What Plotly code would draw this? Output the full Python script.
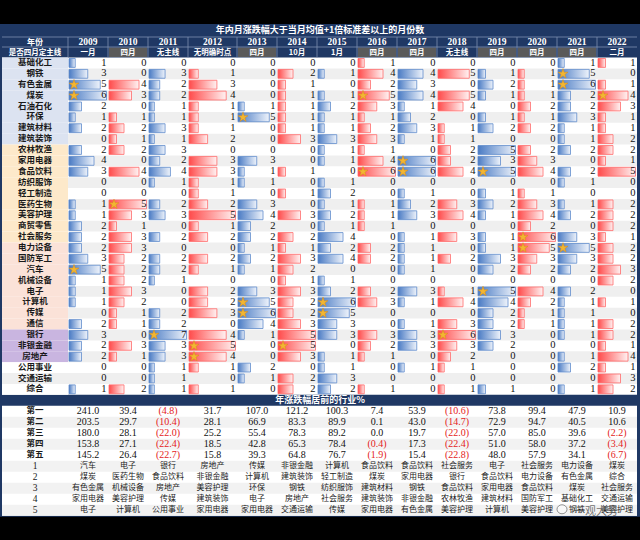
import plotly.graph_objects as go

# ---------------- data ----------------
years = ["2009", "2010", "2011", "2012", "2013", "2014", "2015", "2016", "2017",
         "2018", "2019", "2020", "2021", "2022"]
mainline = ["一月", "四月", "无主线", "无明确时点", "四月", "10月", "1月", "四月", "四月",
            "无主线", "四月", "四月", "四月", "二月"]
industries = ["基础化工", "钢铁", "有色金属", "煤炭", "石油石化", "环保", "建筑材料", "建筑装饰",
              "农林牧渔", "家用电器", "食品饮料", "纺织服饰", "轻工制造", "医药生物", "美容护理",
              "商贸零售", "社会服务", "电力设备", "国防军工", "汽车", "机械设备", "电子", "计算机",
              "传媒", "通信", "银行", "非银金融", "房地产", "公用事业", "交通运输", "综合"]
industry_group = [0] * 8 + [1] * 9 + [2] * 8 + [3] * 3 + [4] * 3

counts = [
    [1, 0, 0, 0, 0, 0, 0, 1, 0, 0, 0, 0, 1, 1],
    [3, 0, 3, 1, 0, 2, 1, 4, 4, 5, 1, 1, 5, 0],
    [5, 4, 2, 3, 0, 1, 0, 2, 3, 0, 2, 1, 6, 1],
    [6, 3, 2, 4, 0, 1, 1, 5, 4, 5, 1, 1, 2, 4],
    [2, 0, 1, 1, 1, 1, 2, 3, 1, 4, 0, 2, 2, 3],
    [1, 1, 1, 1, 5, 1, 1, 1, 2, 0, 1, 1, 3, 1],
    [2, 2, 3, 1, 0, 1, 1, 2, 3, 1, 2, 2, 1, 1],
    [0, 1, 1, 2, 0, 3, 3, 3, 1, 1, 0, 0, 1, 2],
    [2, 2, 3, 0, 0, 0, 1, 1, 0, 2, 5, 2, 2, 2],
    [4, 0, 2, 3, 3, 0, 1, 4, 6, 2, 3, 3, 0, 1],
    [3, 4, 4, 3, 1, 1, 0, 6, 6, 4, 5, 4, 2, 5],
    [0, 0, 1, 1, 1, 0, 1, 0, 0, 0, 0, 0, 1, 0],
    [0, 0, 0, 1, 0, 1, 2, 0, 1, 0, 1, 1, 0, 0],
    [1, 5, 2, 2, 3, 0, 1, 1, 2, 3, 2, 3, 1, 2],
    [1, 3, 3, 5, 4, 3, 2, 1, 3, 4, 1, 4, 2, 2],
    [2, 1, 0, 1, 2, 0, 1, 1, 0, 0, 0, 2, 0, 2],
    [2, 3, 2, 2, 2, 2, 4, 0, 1, 3, 1, 6, 3, 1],
    [2, 3, 0, 0, 1, 1, 2, 2, 1, 0, 1, 5, 5, 2],
    [3, 2, 2, 2, 2, 3, 4, 2, 1, 2, 3, 3, 3, 2],
    [5, 2, 2, 1, 1, 2, 0, 0, 1, 0, 2, 2, 2, 3],
    [1, 2, 1, 0, 0, 1, 1, 0, 0, 0, 0, 0, 0, 2],
    [1, 3, 0, 2, 3, 3, 2, 2, 3, 1, 5, 4, 2, 0],
    [1, 2, 0, 2, 5, 2, 6, 3, 1, 4, 4, 2, 1, 1],
    [0, 1, 2, 3, 6, 2, 5, 0, 0, 0, 2, 1, 1, 0],
    [2, 1, 2, 0, 4, 3, 3, 0, 1, 3, 2, 1, 1, 2],
    [3, 0, 7, 4, 1, 5, 3, 3, 3, 6, 3, 0, 1, 2],
    [2, 3, 3, 5, 0, 5, 0, 2, 3, 3, 2, 0, 0, 1],
    [2, 1, 3, 4, 0, 3, 1, 1, 0, 2, 0, 0, 1, 4],
    [0, 0, 1, 1, 2, 0, 1, 0, 1, 1, 0, 0, 2, 1],
    [0, 0, 1, 0, 1, 2, 3, 0, 0, 0, 0, 0, 0, 3],
    [1, 2, 1, 1, 0, 2, 2, 1, 0, 1, 1, 0, 1, 2],
]

# (industry, year) cells marked with a star
star_cells = [("有色金属", "2009"), ("煤炭", "2009"), ("汽车", "2009"), ("医药生物", "2010"),
              ("银行", "2011"), ("非银金融", "2012"), ("房地产", "2012"), ("环保", "2013"),
              ("计算机", "2013"), ("传媒", "2013"), ("非银金融", "2014"), ("计算机", "2015"),
              ("传媒", "2015"), ("煤炭", "2016"), ("食品饮料", "2016"), ("家用电器", "2017"),
              ("食品饮料", "2017"), ("银行", "2018"), ("食品饮料", "2019"), ("电子", "2019"),
              ("社会服务", "2020"), ("电力设备", "2020"), ("钢铁", "2021"), ("有色金属", "2021"),
              ("电力设备", "2021"), ("煤炭", "2022")]

rank_labels = ["第一", "第二", "第三", "第四", "第五"]
top_returns = [
    [241.0, 203.5, 180.0, 153.8, 145.2],
    [39.4, 29.7, 28.1, 27.1, 26.4],
    [-4.8, -10.4, -22.0, -22.4, -22.7],
    [31.7, 28.1, 25.2, 18.5, 15.8],
    [107.0, 66.9, 55.4, 42.8, 39.3],
    [121.2, 83.3, 78.3, 65.3, 64.8],
    [100.3, 89.9, 89.2, 78.4, 76.7],
    [7.4, 0.1, 0.0, -0.4, -1.9],
    [53.9, 43.0, 19.7, 17.3, 15.4],
    [-10.6, -14.7, -22.0, -22.4, -22.8],
    [73.8, 72.9, 57.0, 51.0, 48.0],
    [99.4, 94.7, 85.0, 58.0, 57.9],
    [47.9, 40.5, 39.6, 37.2, 34.1],
    [10.9, 10.6, -2.2, -3.4, -6.7],
]
top_names = [
    ["汽车", "煤炭", "有色金属", "家用电器", "电子"],
    ["电子", "医药生物", "机械设备", "美容护理", "计算机"],
    ["银行", "食品饮料", "房地产", "传媒", "公用事业"],
    ["房地产", "非银金融", "美容护理", "建筑装饰", "家用电器"],
    ["传媒", "计算机", "环保", "电子", "家用电器"],
    ["非银金融", "建筑装饰", "钢铁", "房地产", "交通运输"],
    ["计算机", "轻工制造", "纺织服饰", "社会服务", "传媒"],
    ["食品饮料", "煤炭", "建筑材料", "建筑装饰", "家用电器"],
    ["食品饮料", "家用电器", "钢铁", "非银金融", "有色金属"],
    ["社会服务", "银行", "食品饮料", "农林牧渔", "美容护理"],
    ["电子", "食品饮料", "家用电器", "建筑材料", "计算机"],
    ["社会服务", "电力设备", "食品饮料", "国防军工", "美容护理"],
    ["电力设备", "有色金属", "煤炭", "基础化工", "钢铁"],
    ["煤炭", "综合", "社会服务", "交通运输", "美容护理"],
]
name_rank_labels = ["1", "2", "3", "4", "5"]

title_top = "年内月涨跌幅大于当月均值+1倍标准差以上的月份数"
title_bottom = "年涨跌幅居前的行业%"
watermark = "一观大势"

# ---------------- style / geometry ----------------
W, H = 640, 540
NAVY = "#1f3864"
CJK = "Noto Sans CJK SC"
SERIF = "Liberation Serif"
col_edges = [2, 68, 108, 148, 188, 237, 277, 317, 357, 397, 437, 477, 517, 557, 597, 637]
y_title0, y_title1 = 24, 37
y_hdr1 = 47
y_data0 = 57.5
row_h = 10.88
n_rows = len(industries)
y_data1 = y_data0 + n_rows * row_h
y_btitle1 = y_data1 + 11
brow_h = 11.0
y_bottom = y_btitle1 + 10 * brow_h

group_colors = ["#dce3f1", "#fde9ca", "#fbe2d8", "#c9b5e0", "#ffffff"]
STRIPE = "#efefef"
BLUE_DARK, BLUE_LIGHT, BLUE_LINE = "#4a7bc4", "#eef3fb", "#5f8bcb"
RED_DARK, RED_LIGHT, RED_LINE = "#ff4b4b", "#fff2f2", "#ff6b6b"

fig = go.Figure()
shapes = []


def rect(x0, y0, x1, y1, color, line=None, lw=0):
    shapes.append(dict(type="rect", xref="x", yref="y", x0=x0, y0=y0, x1=x1, y1=y1,
                       fillcolor=color, line=dict(color=line or color, width=lw), layer="below"))


# outer frame and bands
rect(0, y_title0, W, y_bottom + 1, NAVY)
rect(col_edges[0], y_data0, col_edges[-1], y_data1, "#ffffff")
rect(col_edges[0], y_btitle1, col_edges[-1], y_bottom, "#ffffff")

# header cells (四月 highlighted)
for j, m in enumerate(mainline):
    if m == "四月":
        rect(col_edges[j + 1] + 1, y_hdr1 + 0.5, col_edges[j + 2] - 1, y_data0 - 0.5, "#5a5a5a")
# header separators
for x in col_edges[1:-1]:
    shapes.append(dict(type="line", xref="x", yref="y", x0=x, x1=x, y0=y_title1, y1=y_data0,
                       line=dict(color="#7f8fb0", width=0.8), layer="below"))
for yy in (y_title1, y_hdr1):
    shapes.append(dict(type="line", xref="x", yref="y", x0=col_edges[0], x1=col_edges[-1],
                       y0=yy, y1=yy, line=dict(color="#7f8fb0", width=0.8), layer="below"))

# data rows backgrounds
for i in range(n_rows):
    y0 = y_data0 + i * row_h
    y1 = y0 + row_h
    g = industry_group[i]
    lab_color = group_colors[g]
    if g == 4 and i % 2 == 1:
        lab_color = STRIPE
    rect(col_edges[0], y0, col_edges[1], y1, lab_color)
    if i % 2 == 1:
        rect(col_edges[1], y0, col_edges[-1], y1, STRIPE)

# bottom table stripes
for r in range(10):
    y0 = y_btitle1 + r * brow_h
    if r % 2 == 1:
        rect(col_edges[0], y0, col_edges[-1], y0 + brow_h, "#f2f2f2")

# ---------------- data bars ----------------
for j in range(len(years)):
    x0 = col_edges[j + 1]
    w = col_edges[j + 2] - x0
    cmax = max(counts[i][j] for i in range(n_rows))
    dark, light, edge = (BLUE_DARK, BLUE_LIGHT, BLUE_LINE) if j % 2 == 0 else (RED_DARK, RED_LIGHT, RED_LINE)
    for i in range(n_rows):
        v = counts[i][j]
        if v == 0:
            continue
        bl = v / cmax * (w - 2.5)
        yt = y_data0 + i * row_h + 1.0
        yb = yt + row_h - 2.0
        xa, xb = x0 + 1, x0 + 1 + bl
        fig.add_trace(go.Scatter(
            x=[xa, xb, xb, xa, xa], y=[yt, yt, yb, yb, yt], mode="lines", fill="toself",
            fillgradient=dict(type="horizontal", colorscale=[[0, dark], [1, light]]),
            line=dict(color=edge, width=0.8), hoverinfo="skip", showlegend=False))

# stars
sx, sy = [], []
for (ind, yr) in star_cells:
    i = industries.index(ind)
    j = years.index(yr)
    sx.append(col_edges[j + 1] + 6)
    sy.append(y_data0 + (i + 0.5) * row_h)
fig.add_trace(go.Scatter(x=sx, y=sy, mode="markers",
                         marker=dict(symbol="star", size=7.5, color="#f2b632",
                                     line=dict(color="#d98c1a", width=0.5)),
                         hoverinfo="skip", showlegend=False))


# ---------------- texts ----------------
def text_trace(xs, ys, texts, pos, size, family, color, bold=False):
    fig.add_trace(go.Scatter(x=xs, y=ys, text=texts, mode="text", textposition=pos,
                             textfont=dict(size=size, family=family, color=color,
                                           weight="bold" if bold else "normal"),
                             hoverinfo="skip", showlegend=False))


# numbers
nx, ny, nt = [], [], []
for i in range(n_rows):
    for j in range(len(years)):
        nx.append(col_edges[j + 2] - 1.5)
        ny.append(y_data0 + (i + 0.5) * row_h)
        nt.append(str(counts[i][j]))
text_trace(nx, ny, nt, "middle left", 10.5, SERIF, "#111111")

# industry labels
lx = [(col_edges[0] + col_edges[1]) / 2] * n_rows
ly = [y_data0 + (i + 0.5) * row_h for i in range(n_rows)]
text_trace(lx, ly, industries, "middle center", 8.5, CJK, "#1a1a1a", bold=True)

# title bands
text_trace([W / 2], [(y_title0 + y_title1) / 2 + 0.5], [title_top], "middle center", 9, CJK, "#ffffff", True)
text_trace([W / 2], [(y_data1 + y_btitle1) / 2 + 0.5], [title_bottom], "middle center", 9, CJK, "#ffffff", True)

# header rows
cx = [(col_edges[j + 1] + col_edges[j + 2]) / 2 for j in range(len(years))]
text_trace([(col_edges[0] + col_edges[1]) / 2], [(y_title1 + y_hdr1) / 2 + 0.5], ["年份"],
           "middle center", 8, CJK, "#ffffff", True)
text_trace(cx, [(y_title1 + y_hdr1) / 2 + 0.5] * len(years), years, "middle center", 9.5, SERIF, "#ffffff", True)
text_trace([(col_edges[0] + col_edges[1]) / 2], [(y_hdr1 + y_data0) / 2 + 0.5], ["是否四月定主线"],
           "middle center", 7.5, CJK, "#ffffff", True)
text_trace(cx, [(y_hdr1 + y_data0) / 2 + 0.5] * len(years), mainline, "middle center", 7.5, CJK, "#ffffff", True)

# bottom table
bx, by, bt, bc = [], [], [], []
for j in range(len(years)):
    for r in range(5):
        v = top_returns[j][r]
        bx.append(cx[j])
        by.append(y_btitle1 + (r + 0.5) * brow_h)
        bt.append(f"({abs(v):.1f})" if v < 0 else f"{v:.1f}")
        bc.append("#e41b1b" if v < 0 else "#111111")
fig.add_trace(go.Scatter(x=bx, y=by, text=bt, mode="text", textposition="middle center",
                         textfont=dict(size=10, family=SERIF, color=bc),
                         hoverinfo="skip", showlegend=False))
mx, my, mt = [], [], []
for j in range(len(years)):
    for r in range(5):
        mx.append(cx[j])
        my.append(y_btitle1 + (r + 5.5) * brow_h)
        mt.append(top_names[j][r])
text_trace(mx, my, mt, "middle center", 8, CJK, "#222222")
labx = (col_edges[0] + col_edges[1]) / 2
text_trace([labx] * 5, [y_btitle1 + (r + 0.5) * brow_h for r in range(5)], rank_labels,
           "middle center", 8.5, CJK, "#1a1a1a", True)
text_trace([labx] * 5, [y_btitle1 + (r + 5.5) * brow_h for r in range(5)], name_rank_labels,
           "middle center", 9.5, SERIF, "#1a1a1a")

# watermark
annotations = [dict(x=596, y=y_bottom - 6, xref="x", yref="y", text=watermark, showarrow=False,
                    font=dict(size=11, family=CJK, color="rgba(90,90,90,0.85)"))]
shapes.append(dict(type="circle", xref="x", yref="y", x0=557, x1=567, y0=y_bottom - 11, y1=y_bottom - 2,
                   line=dict(color="rgba(120,120,120,0.8)", width=1), fillcolor="rgba(255,255,255,0.5)"))

fig.update_layout(
    width=W, height=H, margin=dict(l=0, r=0, t=0, b=0),
    paper_bgcolor="#000000", plot_bgcolor="#000000",
    xaxis=dict(range=[0, W], visible=False, fixedrange=True),
    yaxis=dict(range=[H, 0], visible=False, fixedrange=True),
    shapes=shapes, annotations=annotations, showlegend=False,
)
fig.write_html("out.html")
